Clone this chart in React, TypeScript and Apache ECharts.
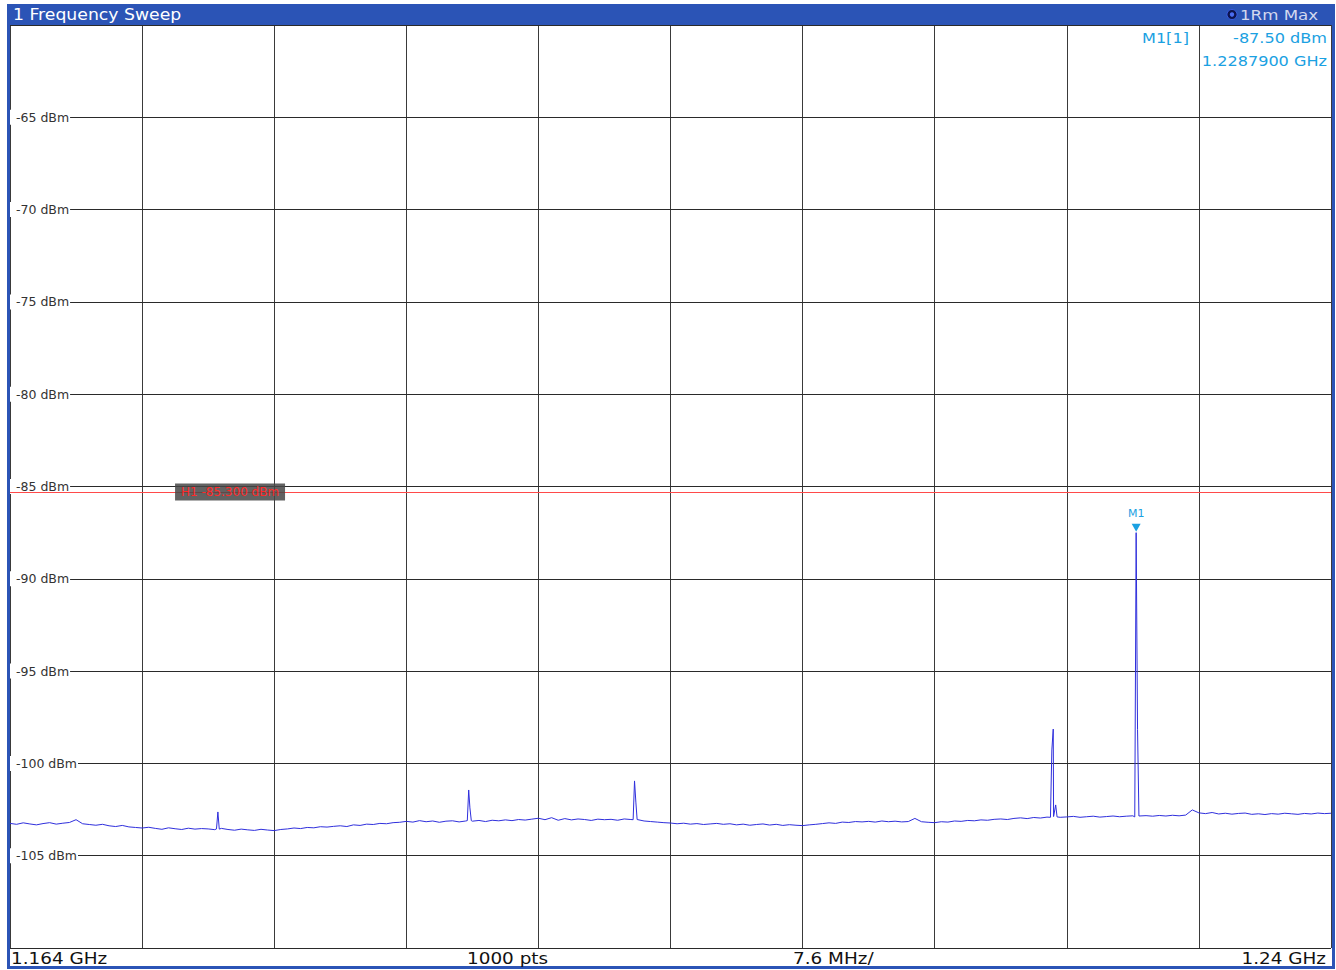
import React, { useEffect, useRef } from "react";
import * as echarts from "echarts";

// ---------- texts ----------
const TITLE = "1 Frequency Sweep";
const TRACE_INFO = "1Rm Max";
const START_LABEL = "1.164 GHz";
const POINTS_LABEL = "1000 pts";
const SPAN_LABEL = "7.6 MHz/";
const STOP_LABEL = "1.24 GHz";
const MARKER_NAME = "M1";
const MARKER_TABLE_NAME = "M1[1]";
const LINE_NAME = "H1";

// ---------- axes ----------
const START_MHZ = 1164;
const STOP_MHZ = 1240;
const DIV_MHZ = 7.6;
const LEVEL_MIN = -110;
const LEVEL_MAX = -60;
const LEVEL_DIV = 5;

// ---------- trace data ----------
const NOISE_STEP_MHZ = 0.38; // noise floor read every 0.38 MHz from 1164 MHz
const noiseFloorDbm = [
  -103.25, -103.3, -103.22, -103.28, -103.33, -103.26, -103.21, -103.29, -103.24, -103.2,
  -103.05, -103.27, -103.31, -103.35, -103.3, -103.38, -103.42, -103.36, -103.44, -103.47,
  -103.5, -103.46, -103.52, -103.57, -103.49, -103.54, -103.58, -103.51, -103.56, -103.53,
  -103.55, -103.59, -103.52, -103.58, -103.62, -103.56, -103.6, -103.63, -103.57, -103.61,
  -103.64, -103.58, -103.55, -103.5, -103.53, -103.47, -103.49, -103.43, -103.45, -103.41,
  -103.38, -103.42, -103.33, -103.36, -103.29, -103.31, -103.25, -103.27, -103.21, -103.19,
  -103.14, -103.18, -103.1, -103.16, -103.12, -103.19, -103.13, -103.11, -103.17, -103.12,
  -103.13, -103.09, -103.15, -103.08, -103.11, -103.06, -103.1, -103.04, -103.07, -103.02,
  -102.97, -103.05, -102.94, -103.08, -102.99, -103.06, -103.01, -103.04, -103.09, -103.02,
  -103.05, -103.03, -103.08, -103.01, -103.04, -103.07, -103.12, -103.15, -103.18, -103.21,
  -103.23, -103.27, -103.24, -103.29, -103.26, -103.31, -103.28, -103.25, -103.3, -103.27,
  -103.33, -103.29, -103.35, -103.31, -103.28, -103.34, -103.3, -103.36, -103.32, -103.35,
  -103.37, -103.33, -103.3, -103.26, -103.22, -103.25, -103.18, -103.2, -103.15, -103.17,
  -103.14, -103.18, -103.12, -103.16, -103.13, -103.17, -103.15, -102.98, -103.16, -103.19,
  -103.21, -103.16, -103.18, -103.12, -103.14, -103.09, -103.11, -103.06, -103.08, -103.03,
  -103.01, -103.04, -102.98, -102.95, -102.99, -102.93, -102.96, -102.91, -102.88, -102.92,
  -102.9, -102.87, -102.92, -102.89, -102.86, -102.91, -102.88, -102.85, -102.89, -102.86,
  -102.84, -102.87, -102.83, -102.86, -102.82, -102.85, -102.81, -102.84, -102.8, -102.52,
  -102.68, -102.72, -102.66, -102.74, -102.7, -102.75, -102.71, -102.69, -102.76, -102.73,
  -102.77, -102.72, -102.75, -102.7, -102.73, -102.76, -102.71, -102.74, -102.69, -102.72,
  -102.7,
];

const spikeFreqMhz = [
  1175.88, 1175.96, 1176.04,
  1190.31, 1190.39, 1190.46, 1190.54,
  1199.85, 1199.93, 1200.01, 1200.08,
  1223.86, 1223.94, 1224.02, 1224.07, 1224.16, 1224.24,
  1228.71, 1228.79, 1228.87, 1228.95,
];
const spikeDbm = [
  -103.55, -102.63, -103.56,
  -103.1, -101.44, -102.41, -103.1,
  -103.05, -100.95, -102.14, -103.04,
  -102.92, -99.27, -98.14, -102.9, -102.25, -102.9,
  -102.9, -87.5, -98.16, -102.85,
];

// ---------- markers ----------
const H1_LEVEL = -85.3;
const M1_FREQ_MHZ = 1228.79;
const M1_LEVEL = -87.5;

// ---------- layout / style ----------
const W = 1336;
const H = 970;
const GRID_LEFT = 10;
const GRID_RIGHT_PX = 1331;
const GRID_TOP = 25;
const GRID_BOTTOM_PX = 948;
const H1_LABEL_OFFSET_MHZ = 12.66;
const FONT = "DejaVu Sans";
const FRAME_BLUE = "#2b54b6";
const CYAN = "#1ba1e2";
const STRETCH = 1.15;

function buildTrace(): [number, number][] {
  const pts: [number, number][] = [];
  noiseFloorDbm.forEach((v, i) => pts.push([START_MHZ + i * NOISE_STEP_MHZ, v]));
  spikeFreqMhz.forEach((f, i) => pts.push([f, spikeDbm[i]]));
  pts.sort((a, b) => a[0] - b[0]);
  return pts.map(([f, v]) => [+(f - START_MHZ).toFixed(3), v]);
}

export default function App() {
  const ref = useRef<HTMLDivElement>(null);
  useEffect(() => {
    if (!ref.current) return;
    const chart = echarts.init(ref.current, undefined, { renderer: "svg" });
    const span = STOP_MHZ - START_MHZ;
    const txt = (
      text: string,
      x: number,
      y: number,
      size: number,
      fill: string,
      align: string = "left"
    ) => ({
      type: "text",
      x,
      y,
      scaleX: STRETCH,
      z: 20,
      style: {
        text,
        fill,
        fontSize: size,
        fontFamily: FONT,
        align,
        verticalAlign: "middle",
      },
    });

    chart.setOption({
      animation: false,
      backgroundColor: "#ffffff",
      grid: {
        left: GRID_LEFT,
        right: W - GRID_RIGHT_PX,
        top: GRID_TOP,
        bottom: H - GRID_BOTTOM_PX,
        containLabel: false,
      },
      xAxis: {
        type: "value",
        min: 0,
        max: span,
        interval: DIV_MHZ,
        axisLine: { show: false },
        axisTick: { show: false },
        axisLabel: { show: false },
        splitLine: { show: true, lineStyle: { color: "#3a3a3a", width: 1 } },
      },
      yAxis: [
        {
          type: "value",
          position: "left",
          min: LEVEL_MIN,
          max: LEVEL_MAX,
          interval: LEVEL_DIV,
          z: 1,
          axisLine: { show: false },
          axisTick: { show: false },
          axisLabel: { show: false },
          splitLine: { show: true, lineStyle: { color: "#2a2a2a", width: 1 } },
        },
        {
          type: "value",
          position: "left",
          min: LEVEL_MIN,
          max: LEVEL_MAX,
          interval: LEVEL_DIV,
          z: 3,
          axisLine: { show: false },
          axisTick: { show: false },
          splitLine: { show: false },
          axisLabel: {
            show: true,
            inside: true,
            margin: 0,
            showMinLabel: false,
            showMaxLabel: false,
            formatter: (v: number) => `${v} dBm`,
            color: "#333",
            fontSize: 12.5,
            fontFamily: FONT,
            backgroundColor: "#ffffff",
            padding: [1, 1, 1, 6],
            align: "left",
          },
        },
      ],
      series: [
        {
          type: "line",
          data: buildTrace(),
          yAxisIndex: 0,
          showSymbol: false,
          symbol: "none",
          z: 4,
          lineStyle: { color: "#2f2fdc", width: 1 },
          markLine: {
            silent: true,
            symbol: ["none", "none"],
            label: { show: false },
            lineStyle: { color: "#ff4a4a", width: 1, type: "solid" },
            data: [{ yAxis: H1_LEVEL }],
          },
          markPoint: {
            silent: true,
            data: [
              {
                coord: [H1_LABEL_OFFSET_MHZ, H1_LEVEL],
                symbol: "rect",
                symbolSize: [110, 17],
                itemStyle: { color: "rgba(70,70,70,0.85)" },
                label: {
                  show: true,
                  position: "inside",
                  formatter: `${LINE_NAME} ${H1_LEVEL.toFixed(3)} dBm`,
                  color: "#ff2a2a",
                  fontSize: 12,
                  fontFamily: FONT,
                },
              },
              {
                coord: [M1_FREQ_MHZ - START_MHZ, M1_LEVEL],
                symbol: "triangle",
                symbolRotate: 180,
                symbolSize: [9, 8],
                symbolOffset: [0, -5],
                itemStyle: { color: CYAN },
                label: {
                  show: true,
                  position: "top",
                  distance: 5,
                  formatter: MARKER_NAME,
                  color: CYAN,
                  fontSize: 11,
                  fontFamily: FONT,
                },
              },
            ],
          },
        },
      ],
      graphic: [
        // frame
        { type: "rect", z: 15, shape: { x: 7, y: 4, width: 1328, height: 21 }, style: { fill: FRAME_BLUE } },
        { type: "rect", z: 15, shape: { x: 7, y: 4, width: 3, height: 965 }, style: { fill: FRAME_BLUE } },
        { type: "rect", z: 15, shape: { x: 1332, y: 4, width: 3, height: 965 }, style: { fill: FRAME_BLUE } },
        { type: "rect", z: 15, shape: { x: 7, y: 966, width: 1328, height: 3 }, style: { fill: FRAME_BLUE } },
        txt(TITLE, 13, 15, 15, "#ffffff"),
        {
          type: "circle",
          z: 20,
          shape: { cx: 1232, cy: 14.5, r: 5 },
          style: { fill: "#0d1450", stroke: "#3a5be0", lineWidth: 1 },
        },
        {
          type: "circle",
          z: 21,
          shape: { cx: 1232, cy: 14.5, r: 2.2 },
          style: { fill: "#4a6cf0" },
        },
        txt(TRACE_INFO, 1240, 15, 14.5, "#d3d9ef"),
        // marker table
        txt(MARKER_TABLE_NAME, 1142, 38, 14, CYAN),
        txt(`${M1_LEVEL.toFixed(2)} dBm`, 1327, 38, 14, CYAN, "right"),
        txt(`${(M1_FREQ_MHZ / 1000).toFixed(7)} GHz`, 1327, 61, 14, CYAN, "right"),
        // footer
        txt(START_LABEL, 11, 958, 16, "#111"),
        txt(POINTS_LABEL, 467, 958, 16, "#111"),
        txt(SPAN_LABEL, 793, 958, 16, "#111"),
        txt(STOP_LABEL, 1326, 958, 16, "#111", "right"),
      ],
    });
    return () => chart.dispose();
  }, []);
  return (
    <div
      ref={ref}
      style={{ position: "fixed", left: 0, top: 0, width: W, height: H, background: "#fff" }}
    />
  );
}
